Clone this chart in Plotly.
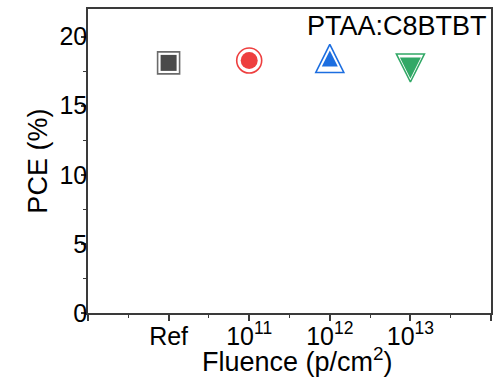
import plotly.graph_objects as go

categories = ["Ref", "10<sup>11</sup>", "10<sup>12</sup>", "10<sup>13</sup>"]
positions = [1, 2, 3, 4]
pce = [18.1, 18.27, 18.42, 17.73]

# arrow-down rotated 180 gives an equilateral-like up triangle; standoff centres it
outer_symbols = ["square-open", "circle-open", "arrow-down-open", "arrow-down-open"]
inner_symbols = ["square", "circle", "arrow-down", "arrow-down"]
angles = [0, 0, 180, 0]
outer_colors = ["#6b6b6b", "#ee3f3f", "#1c6ee0", "#31a866"]
inner_colors = ["#4a4a4a", "#ee3f3f", "#1c6ee0", "#31a866"]
outer_sizes = [22, 25, 28, 28]
inner_sizes = [16, 17, 16, 21]
outer_standoff = [0, 0, outer_sizes[2] / 2, outer_sizes[3] / 2]
inner_standoff = [0, 0, inner_sizes[2] / 2, inner_sizes[3] / 2]

fig = go.Figure()
fig.add_trace(go.Scatter(
    x=positions, y=pce, mode="markers", showlegend=False,
    marker=dict(symbol=outer_symbols, size=outer_sizes, color=outer_colors, opacity=1,
                angle=angles, standoff=outer_standoff,
                line=dict(width=1.6, color=outer_colors)),
))
fig.add_trace(go.Scatter(
    x=positions, y=pce, mode="markers", showlegend=False,
    marker=dict(symbol=inner_symbols, size=inner_sizes, color=inner_colors, opacity=1,
                angle=angles, standoff=inner_standoff,
                line=dict(width=0)),
))

font = "Liberation Sans, Arial, sans-serif"
fig.update_layout(
    width=502, height=377,
    margin=dict(l=88, r=11, t=9, b=64),
    plot_bgcolor="white", paper_bgcolor="white",
    font=dict(family=font, size=25, color="black"),
    annotations=[
        dict(text="PTAA:C8BTBT", xref="paper", yref="paper", x=0.995, y=1.0,
             xanchor="right", yanchor="top", showarrow=False,
             font=dict(size=27, color="black")),
        dict(text="Fluence (p/cm<sup>2</sup>)", xref="paper", yref="paper", x=0.52, y=-0.155,
             xanchor="center", yanchor="middle", showarrow=False,
             font=dict(size=27, color="black")),
        dict(text="PCE (%)", xref="paper", yref="paper", x=-0.125, y=0.5, textangle=-90,
             xanchor="center", yanchor="middle", showarrow=False,
             font=dict(size=27, color="black")),
    ],
)
fig.update_xaxes(
    range=[0, 5], tickvals=[0] + positions + [5], ticktext=[""] + categories + [""],
    showline=True, linecolor="#3a3a3a", linewidth=1.5, mirror=True,
    ticks="outside", ticklen=6, tickwidth=1.5, tickcolor="#3a3a3a",
    minor=dict(ticks="outside", ticklen=3, tickwidth=1.2, tickcolor="#3a3a3a", dtick=0.5, tick0=0.5),
    showgrid=False, zeroline=False, tickfont=dict(size=25), automargin=False,
    ticklabelstandoff=-6,
)
fig.update_yaxes(
    range=[0, 22], tickvals=[0, 5, 10, 15, 20],
    showline=True, linecolor="#3a3a3a", linewidth=1.5, mirror=True,
    ticks="outside", ticklen=5, tickwidth=1.5, tickcolor="#3a3a3a",
    minor=dict(ticks="outside", ticklen=3, tickwidth=1.2, tickcolor="#3a3a3a", dtick=2.5, tick0=2.5),
    showgrid=False, zeroline=False, tickfont=dict(size=25), ticklabelstandoff=-11,
    automargin=False,
)

fig.write_html("out.html", config={"displayModeBar": False},
               post_script="document.body.style.margin='0';")
